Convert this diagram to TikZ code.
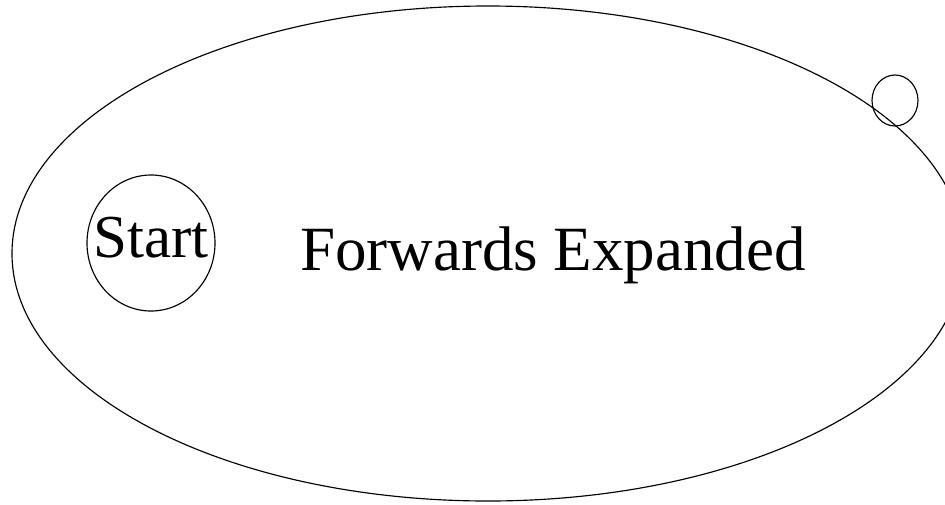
\documentclass[tikz,border=0pt]{standalone}
\usepackage{fontspec}
\setmainfont{Liberation Serif}
\usepackage{tikz}
\usetikzlibrary{shapes.geometric}

\begin{document}
\begin{tikzpicture}[x=1pt, y=-1pt,
  etat/.style 2 args={ellipse, draw=black, line width=1.15pt, inner sep=0pt,
                      minimum width=#1, minimum height=#2},
  txt/.style={font=\fontsize{#1}{70}\selectfont, inner sep=0pt}]

\clip (0,0) rectangle (945,504);

% ── la grande région ──
\node[etat={952pt}{495pt}] (fwd) at (488,253.5) {};
\node[txt=63, anchor=base] (fwdlab) at (553,270) {Forwards Expanded};

% ── le départ ──
\node[etat={128pt}{136pt}] (start) at (151,243) {};
\node[txt=61, anchor=base] (startlab) at (151,257) {Start};

% ── le petit cercle en haut à droite ──
\node[etat={46pt}{51pt}] (loop) at (895,100.5) {};

\end{tikzpicture}
\end{document}
